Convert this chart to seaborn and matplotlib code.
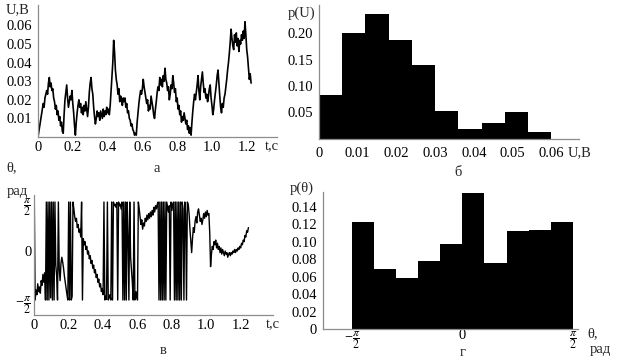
import numpy as np
import matplotlib
matplotlib.use('Agg')
import matplotlib.pyplot as plt
import seaborn as sns

# sampling step of both time series, s
dt = 0.005

u_volts = [
    0.000, 0.003, 0.006, 0.009, 0.012, 0.015, 0.018, 0.016, 0.021, 0.023,
    0.025, 0.023, 0.029, 0.032, 0.027, 0.029, 0.025, 0.026, 0.021, 0.019,
    0.015, 0.017, 0.012, 0.014, 0.009, 0.011, 0.006, 0.008, 0.003, 0.002,
    0.012, 0.020, 0.024, 0.028, 0.021, 0.016, 0.019, 0.022, 0.020, 0.025,
    0.018, 0.013, 0.006, 0.001, 0.008, 0.013, 0.017, 0.020, 0.016, 0.018,
    0.013, 0.016, 0.012, 0.017, 0.014, 0.019, 0.015, 0.011, 0.016, 0.024,
    0.029, 0.032, 0.026, 0.023, 0.016, 0.011, 0.007, 0.010, 0.014, 0.011,
    0.013, 0.009, 0.014, 0.012, 0.010, 0.015, 0.011, 0.014, 0.012, 0.016,
    0.013, 0.015, 0.012, 0.017, 0.025, 0.032, 0.040, 0.052, 0.046, 0.036,
    0.031, 0.028, 0.023, 0.026, 0.019, 0.022, 0.020, 0.017, 0.021, 0.019,
    0.021, 0.016, 0.018, 0.013, 0.014, 0.010, 0.009, 0.006, 0.007, 0.004,
    0.003, 0.001, 0.002, 0.001, 0.008, 0.013, 0.018, 0.022, 0.025, 0.023,
    0.026, 0.031, 0.027, 0.024, 0.021, 0.018, 0.020, 0.014, 0.017, 0.015,
    0.022, 0.019, 0.016, 0.012, 0.010, 0.015, 0.019, 0.024, 0.027, 0.025,
    0.032, 0.028, 0.031, 0.027, 0.033, 0.030, 0.037, 0.031, 0.029, 0.025,
    0.027, 0.020, 0.023, 0.028, 0.026, 0.033, 0.029, 0.024, 0.026, 0.019,
    0.021, 0.015, 0.017, 0.012, 0.014, 0.008, 0.011, 0.009, 0.013, 0.010,
    0.007, 0.009, 0.004, 0.006, 0.002, 0.005, 0.001, 0.008, 0.014, 0.019,
    0.023, 0.020, 0.024, 0.028, 0.033, 0.025, 0.020, 0.027, 0.031, 0.035,
    0.029, 0.024, 0.026, 0.021, 0.023, 0.019, 0.022, 0.026, 0.028, 0.021,
    0.017, 0.012, 0.015, 0.020, 0.024, 0.028, 0.033, 0.036, 0.029, 0.022,
    0.016, 0.013, 0.018, 0.016, 0.021, 0.023, 0.027, 0.031, 0.036, 0.040,
    0.045, 0.051, 0.058, 0.053, 0.049, 0.047, 0.055, 0.051, 0.056, 0.049,
    0.053, 0.046, 0.052, 0.050, 0.055, 0.052, 0.057, 0.053, 0.062, 0.055,
    0.047, 0.043, 0.037, 0.031, 0.034, 0.029,
]

# theta(t), rad, wrapped into [-pi/2, pi/2]  (panel "в")
theta_rad = [
    1.57, -1.57, -1.25, -1.40, -1.05, -1.30, -1.15, -1.35, -0.95, -1.10,
    -0.75, -1.00, -0.70, -1.57, 1.57, -1.57, 1.57, -1.57, 1.57, -1.50,
    1.57, -1.57, 1.57, -1.57, 1.57, -0.45, -0.80, -1.57, 1.57, -0.60,
    -0.95, -0.40, -0.20, -0.35, -0.55, -0.80, -1.00, -1.20, -1.40, -1.57,
    1.57, -1.57, 1.57, -1.57, -1.45, 1.57, 1.35, 1.10, 0.95, 1.05,
    0.75, 0.85, 0.60, 0.70, 0.45, 1.57, -1.57, 0.40, 0.20, 0.30,
    0.05, 0.15, -0.10, 0.00, -0.25, -0.15, -0.40, -0.30, -0.55, -0.45,
    -0.70, -0.60, -0.85, -0.75, -1.00, -0.90, -1.15, -1.05, -1.30, -1.20,
    -1.40, 1.57, -1.57, -1.45, -1.55, 1.57, -1.57, -1.50, -1.40, -1.57,
    1.57, -1.57, 1.57, 1.45, 1.50, 1.40, 1.55, -1.57, 1.57, 1.45,
    1.50, 1.35, 1.57, -1.57, 1.57, -1.57, 1.57, -1.57, 1.57, 0.50,
    -1.57, 1.57, -0.20, -0.60, -1.00, -1.57, 1.57, -1.57, -1.30, -1.45,
    -1.57, 1.57, 1.35, 1.10, 0.85, 1.00, 0.70, 0.90, 0.80, 1.05,
    0.95, 1.15, 1.00, 1.20, 1.05, 1.25, 1.10, 1.30, 1.15, 1.40,
    1.25, 1.45, 1.35, 1.50, 1.57, -1.57, 1.57, -1.57, 1.57, -1.57,
    1.57, -1.57, 1.57, -1.57, 1.57, 1.40, 1.25, 1.45, -1.57, 1.57,
    1.30, 1.50, 1.57, -1.57, 1.57, -1.57, 1.57, -1.57, 1.57, -1.57,
    1.57, -1.57, 1.57, 1.35, -1.57, 1.57, 1.20, -1.57, 1.57, 1.50,
    1.20, 0.70, 0.30, -0.05, 0.40, 0.75, 0.60, 0.95, 1.10, 0.90,
    1.25, 1.35, 1.15, 0.95, 1.05, 0.85, 1.00, 1.20, 1.05, 1.25,
    1.10, 1.30, 1.15, 1.20, 0.60, -0.50, -0.10, 0.15, 0.05, 0.30,
    0.20, 0.35, 0.10, 0.25, 0.05, 0.15, -0.05, 0.10, -0.10, 0.05,
    -0.05, -0.15, 0.00, -0.10, -0.05, -0.20, -0.10, -0.05, -0.15, -0.05,
    -0.10, 0.00, -0.05, 0.05, -0.05, 0.05, 0.00, 0.10, 0.05, 0.15,
    0.10, 0.25, 0.20, 0.35, 0.30, 0.50, 0.45, 0.65, 0.60, 0.75,
]

# histograms
u_edges = [0.0, 0.006, 0.012, 0.018, 0.024, 0.030, 0.036, 0.042, 0.048, 0.054, 0.060]
p_u = [0.082, 0.201, 0.237, 0.187, 0.140, 0.052, 0.018, 0.030, 0.051, 0.012]
p_theta = [0.122, 0.069, 0.058, 0.078, 0.097, 0.155, 0.075, 0.112, 0.113, 0.122]

t_ticks = [0, 0.2, 0.4, 0.6, 0.8, 1.0, 1.2]
t_labels = ['0', '0.2', '0.4', '0.6', '0.8', '1.0', '1.2']
u_ticks = [0.01, 0.02, 0.03, 0.04, 0.05, 0.06]
pu_ticks = [0.05, 0.10, 0.15, 0.20]
pu_xticks = [0, 0.01, 0.02, 0.03, 0.04, 0.05, 0.06]
pth_ticks = [0, 0.02, 0.04, 0.06, 0.08, 0.10, 0.12, 0.14]

sns.set_theme(style='white')
plt.rcParams['font.family'] = ['Liberation Serif', 'DejaVu Serif']
plt.rcParams['mathtext.fontset'] = 'stix'

W, H = 622, 361
FS = 10.5
fig = plt.figure(figsize=(W / 100, H / 100), dpi=100)


def px_axes(l, t, r, b):
    return fig.add_axes([l / W, 1 - b / H, (r - l) / W, (b - t) / H])


def label(x, y, s, **kw):
    fig.text(x / W, 1 - y / H, s, ha='center', va='center', fontsize=FS, **kw)


def style(ax):
    sns.despine(ax=ax)
    for side in ('left', 'bottom'):
        ax.spines[side].set_color('#8c8c8c')
        ax.spines[side].set_linewidth(0.9)
    ax.tick_params(direction='in', length=3, width=0.8, color='#8c8c8c',
                   labelsize=FS, labelcolor='black')
    ax.set_xlabel('')
    ax.set_ylabel('')


half_pi = np.pi / 2
frac_labels = [r'$-\dfrac{\pi}{2}$', '0', r'$\dfrac{\pi}{2}$']


def frac_size(labels):
    for lab in labels:
        if 'pi' in lab.get_text():
            lab.set_fontsize(8.5)


# а: U(t)
ax_a = px_axes(38, 5, 277, 137)
t_u = np.arange(len(u_volts)) * dt
sns.lineplot(x=t_u, y=u_volts, ax=ax_a, color='black', linewidth=1.2, estimator=None)
style(ax_a)
ax_a.set_xlim(0, 1.374)
ax_a.set_ylim(0, 0.071)
ax_a.set_xticks(t_ticks, t_labels)
ax_a.set_yticks(u_ticks, [f'{v:.2f}' for v in u_ticks])
ax_a.tick_params(axis='x', pad=3)
ax_a.tick_params(axis='y', pad=4)

# б: p(U)
ax_b = px_axes(319, 5, 579, 138.5)
u_centers = [(a + b) / 2 for a, b in zip(u_edges[:-1], u_edges[1:])]
sns.histplot(x=u_centers, weights=p_u, bins=u_edges, ax=ax_b, color='black',
             edgecolor='black', linewidth=0, alpha=1)
style(ax_b)
ax_b.set_xlim(0, 0.0672)
ax_b.set_ylim(0, 0.254)
ax_b.set_yticks(pu_ticks, [f'{v:.2f}' for v in pu_ticks])
ax_b.set_xticks(pu_xticks, ['0'] + [f'{v:.2f}' for v in pu_xticks[1:]])
ax_b.tick_params(axis='x', pad=6, length=0)
ax_b.tick_params(axis='y', pad=4)

# в: theta(t)
ax_c = px_axes(34.3, 195, 273, 315)
t_th = np.arange(len(theta_rad)) * dt
sns.lineplot(x=t_th, y=theta_rad, ax=ax_c, color='black', linewidth=1.0, estimator=None)
style(ax_c)
ax_c.set_xlim(0, 1.388)
ax_c.set_ylim(-2.05, 1.795)
ax_c.set_xticks(t_ticks, t_labels)
ax_c.set_yticks([-half_pi, 0, half_pi], frac_labels)
frac_size(ax_c.get_yticklabels())
ax_c.tick_params(axis='x', pad=3)
ax_c.tick_params(axis='y', pad=2)

# г: p(theta)
ax_d = px_axes(322.7, 191.7, 578, 329)
th_edges = [float(e) for e in np.linspace(-half_pi, half_pi, len(p_theta) + 1)]
th_centers = [(a + b) / 2 for a, b in zip(th_edges[:-1], th_edges[1:])]
sns.histplot(x=th_centers, weights=p_theta, bins=th_edges, ax=ax_d, color='black',
             edgecolor='black', linewidth=0, alpha=1)
style(ax_d)
ax_d.set_xlim(-1.983, 1.642)
ax_d.set_ylim(0, 0.157)
ax_d.set_yticks(pth_ticks, ['0'] + [f'{v:.2f}' for v in pth_ticks[1:]])
ax_d.set_xticks([-half_pi, 0, half_pi], frac_labels)
frac_size(ax_d.get_xticklabels())
ax_d.tick_params(axis='x', pad=0, length=0)
ax_d.tick_params(axis='y', pad=4)

# axis captions and panel letters
label(18, 10, 'U,B')
label(272, 147, 't,c')
label(157, 168, 'а')
label(302, 13, 'p(U)')
label(580, 153, 'U,B')
label(458, 173, 'б')
label(12, 168, 'θ,')
label(17, 192, 'рад')
label(273, 325, 't,c')
label(163, 351, 'в')
label(302, 188, 'p(θ)')
label(463, 352, 'г')
label(593, 334, 'θ,')
label(600, 350, 'рад')

fig.savefig('out.png', dpi=100)
